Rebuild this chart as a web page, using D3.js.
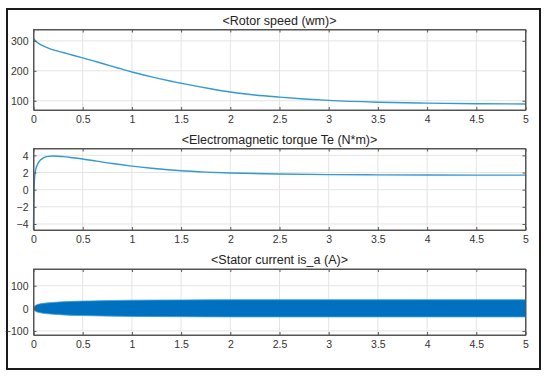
<!DOCTYPE html>
<html>
<head>
  <meta charset="utf-8">
  <script src="https://d3js.org/d3.v7.min.js"></script>
  <style>
    body { margin: 0; background: #fff; }
    text { font-family: Arial, "Liberation Sans", Helvetica, sans-serif; }
  </style>
</head>
<body>
<div id="chart"></div>
<script>
  // Rotor speed (wm)
  var speedTime = [0, 0.03, 0.06, 0.1, 0.15, 0.2, 0.3, 0.4, 0.5, 0.6, 0.7, 0.8, 0.9, 1.0, 1.1, 1.2, 1.3, 1.4, 1.5, 1.6, 1.8, 2.0, 2.25, 2.5, 2.75, 3.0, 3.5, 4.0, 4.5, 5.0];
  var speedVals = [307, 297, 290, 283, 276, 270, 261, 252, 243, 234, 224.5, 215, 205.5, 196, 187.5, 179.5, 172, 165, 158.5, 152, 140, 129, 119, 112, 106, 101, 95, 92, 90, 89];

  // Electromagnetic torque Te (N*m)
  var torqueTime = [0, 0.004, 0.01, 0.02, 0.035, 0.05, 0.07, 0.1, 0.15, 0.2, 0.25, 0.3, 0.4, 0.5, 0.6, 0.8, 1.0, 1.2, 1.5, 1.75, 2.0, 2.5, 3.0, 3.5, 4.0, 4.5, 5.0];
  var torqueVals = [-4.6, -1, 1.2, 2.2, 2.8, 3.15, 3.45, 3.7, 3.88, 3.92, 3.9, 3.85, 3.72, 3.58, 3.4, 3.05, 2.75, 2.5, 2.2, 2.05, 1.95, 1.83, 1.76, 1.73, 1.71, 1.7, 1.7];

  // Stator current is_a (A), envelope of the oscillation
  var currentTime = [0, 0.005, 0.015, 0.03, 0.06, 0.1, 0.2, 0.3, 0.5, 0.7, 1.0, 1.5, 2.0, 3.0, 4.0, 5.0];
  var currentAmp = [0, 6, 11, 15, 19, 22, 26, 29, 32, 34, 36, 37, 38, 38, 38, 38];

  var xTicks = [0, 0.5, 1, 1.5, 2, 2.5, 3, 3.5, 4, 4.5, 5];

  var width = 550, height = 382;
  var left = 33.5, right = 525.5;

  var svg = d3.select('#chart').append('svg')
    .attr('width', width)
    .attr('height', height);

  svg.append('rect')
    .attr('x', 7).attr('y', 9)
    .attr('width', 533).attr('height', 360)
    .attr('fill', '#fff')
    .attr('stroke', '#1a1a1a')
    .attr('stroke-width', 2);

  var x = d3.scaleLinear().domain([0, 5]).range([left, right]);

  function panel(cfg) {
    var y = d3.scaleLinear().domain(cfg.domain).range([cfg.bottom, cfg.top]);
    var g = svg.append('g');

    // grid
    g.selectAll('.gx').data(xTicks).enter().append('line')
      .attr('x1', function(d) { return x(d); })
      .attr('x2', function(d) { return x(d); })
      .attr('y1', cfg.top).attr('y2', cfg.bottom)
      .attr('stroke', '#e4e4e4').attr('stroke-width', 1);
    g.selectAll('.gy').data(cfg.yTicks).enter().append('line')
      .attr('x1', left).attr('x2', right)
      .attr('y1', function(d) { return y(d); })
      .attr('y2', function(d) { return y(d); })
      .attr('stroke', '#e4e4e4').attr('stroke-width', 1);

    cfg.draw(g, y);

    // axes with inward ticks on all four sides
    var axB = d3.axisBottom(x).tickValues(xTicks).tickSizeInner(-3).tickSizeOuter(0).tickPadding(6)
      .tickFormat(d3.format('~g'));
    var axT = d3.axisTop(x).tickValues(xTicks).tickSizeInner(-3).tickSizeOuter(0).tickFormat('');
    var axL = d3.axisLeft(y).tickValues(cfg.yTicks).tickSizeInner(-3).tickSizeOuter(0).tickPadding(5)
      .tickFormat(d3.format('~g'));
    var axR = d3.axisRight(y).tickValues(cfg.yTicks).tickSizeInner(-3).tickSizeOuter(0).tickFormat('');

    g.append('g').attr('transform', 'translate(0,' + cfg.bottom + ')').call(axB);
    g.append('g').attr('transform', 'translate(0,' + cfg.top + ')').call(axT);
    var l = g.append('g').attr('transform', 'translate(' + left + ',0)').call(axL);
    g.append('g').attr('transform', 'translate(' + right + ',0)').call(axR);

    g.selectAll('.domain').attr('stroke', '#555');
    g.selectAll('.tick line').attr('stroke', '#555');
    g.selectAll('.tick text').attr('fill', '#333').style('font-size', '10.5px')
      .style('font-family', 'Arial, "Liberation Sans", sans-serif');
    l.selectAll('.tick text').attr('dy', '0.35em');

    g.append('rect')
      .attr('x', left).attr('y', cfg.top)
      .attr('width', right - left).attr('height', cfg.bottom - cfg.top)
      .attr('fill', 'none').attr('stroke', '#555');

    g.append('text')
      .attr('x', (left + right) / 2).attr('y', cfg.top - 5)
      .attr('text-anchor', 'middle')
      .attr('fill', '#222')
      .style('font-size', '12.5px')
      .text(cfg.title);
  }

  function linePlot(times, vals) {
    return function(g, y) {
      var line = d3.line()
        .x(function(d, i) { return x(times[i]); })
        .y(function(d) { return y(d); })
        .curve(d3.curveMonotoneX);
      g.append('path')
        .datum(vals)
        .attr('d', line)
        .attr('fill', 'none')
        .attr('stroke', '#3399cf')
        .attr('stroke-width', 1.4);
    };
  }

  panel({
    title: '<Rotor speed (wm)>',
    top: 29.5, bottom: 110,
    domain: [69, 338],
    yTicks: [100, 200, 300],
    draw: linePlot(speedTime, speedVals)
  });

  panel({
    title: '<Electromagnetic torque Te (N*m)>',
    top: 148.5, bottom: 230,
    domain: [-4.7, 4.8],
    yTicks: [-4, -2, 0, 2, 4],
    draw: linePlot(torqueTime, torqueVals)
  });

  panel({
    title: '<Stator current is_a (A)>',
    top: 269, bottom: 335,
    domain: [-118, 174],
    yTicks: [-100, 0, 100],
    draw: function(g, y) {
      var area = d3.area()
        .x(function(d, i) { return x(currentTime[i]); })
        .y0(function(d) { return y(-d); })
        .y1(function(d) { return y(d); })
        .curve(d3.curveMonotoneX);
      g.append('path')
        .datum(currentAmp)
        .attr('d', area)
        .attr('fill', '#0070c0')
        .attr('stroke', '#3aa0d8')
        .attr('stroke-width', 0.8);
    }
  });
</script>
</body>
</html>
